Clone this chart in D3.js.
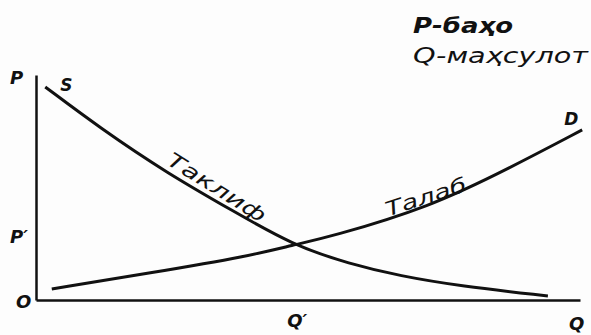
<!DOCTYPE html>
<html lang="uz">
<head>
<meta charset="UTF-8">
<title>Таклиф ва талаб</title>
<script src="https://d3js.org/d3.v7.min.js"></script>
<style>
  body { margin: 0; background: #fdfdfd; }
  svg text { font-family: "DejaVu Sans", sans-serif; font-style: italic; fill: #111; }
  .axis path { stroke: #111; stroke-width: 2.5; }
  .axis text { font-size: 18px; font-style: italic; font-weight: bold; fill: #111; }
  .letter { font-weight: bold; }
</style>
</head>
<body>
<div id="chart"></div>
<script>
// quantity (0-100) and price (0-100) in arbitrary units
const supplyQ = [1.7, 11.8, 24.1, 36.2, 47.2, 57.7, 66.9, 77.9, 94.1];
const supplyP = [94.7, 76.4, 56.4, 39.6, 24.4, 16, 10.7, 6.2, 1.8];
const demandQ = [2.9, 21, 39.3, 47.2, 54, 72.4, 87.1, 100.4];
const demandP = [4.9, 12, 19.6, 24.4, 28, 41.3, 58.7, 75.6];
const equilibrium = [47.2, 24.4];
const legendLines = ["Р-баҳо", "Q-маҳсулот"];

const width = 591, height = 335;
const x = d3.scaleLinear().domain([0, 100]).range([36, 580]);
const y = d3.scaleLinear().domain([0, 100]).range([300, 75]);

const svg = d3.select("#chart").append("svg")
    .attr("width", width)
    .attr("height", height);

// axes, no ticks, only the equilibrium labels
svg.append("g")
    .attr("class", "axis")
    .attr("transform", `translate(0,${y(0)})`)
    .call(d3.axisBottom(x).tickValues([equilibrium[0]]).tickFormat(() => "Q′").tickSize(0).tickPadding(14))
    .call(g => g.selectAll(".tick text").attr("dx", 4));

svg.append("g")
    .attr("class", "axis")
    .attr("transform", `translate(${x(0)},0)`)
    .call(d3.axisLeft(y).tickValues([equilibrium[1]]).tickFormat(() => "P′").tickSize(0).tickPadding(8))
    .call(g => g.selectAll(".tick text").attr("dy", "-0.15em"));

svg.append("text").attr("class", "letter").attr("x", x(0) - 20).attr("y", y(0) + 8).attr("font-size", 18).text("O");
svg.append("text").attr("class", "letter").attr("x", x(0) - 26).attr("y", y(100) + 9).attr("font-size", 18).text("P");
svg.append("text").attr("class", "letter").attr("x", x(98)).attr("y", y(0) + 30).attr("font-size", 18).text("Q");

const line = d3.line()
    .x(d => x(d[0]))
    .y(d => y(d[1]))
    .curve(d3.curveBasis);

const supply = supplyQ.map((q, i) => [q, supplyP[i]]);
const demand = demandQ.map((q, i) => [q, demandP[i]]);

svg.append("path")
    .datum(supply)
    .attr("fill", "none")
    .attr("stroke", "#111")
    .attr("stroke-width", 3)
    .attr("d", line);

svg.append("path")
    .datum(demand)
    .attr("fill", "none")
    .attr("stroke", "#111")
    .attr("stroke-width", 3)
    .attr("d", line);

// curve end letters
svg.append("text").attr("class", "letter").attr("x", x(supply[0][0]) + 15).attr("y", y(supply[0][1]) + 4).attr("font-size", 17).text("S");
svg.append("text").attr("class", "letter").attr("x", x(demand[demand.length - 1][0]) - 18).attr("y", y(demand[demand.length - 1][1]) - 5).attr("font-size", 17).text("D");

// curve names along the lines
svg.append("text")
    .attr("transform", `translate(${x(23.5)},${y(59.5)}) rotate(32)`)
    .attr("font-size", 20)
    .attr("dy", "-0.15em")
    .attr("textLength", 112)
    .attr("lengthAdjust", "spacingAndGlyphs")
    .text("Таклиф");

svg.append("text")
    .attr("transform", `translate(${x(65)},${y(35)}) rotate(-18)`)
    .attr("font-size", 20)
    .attr("dy", "-0.25em")
    .attr("textLength", 84)
    .attr("lengthAdjust", "spacingAndGlyphs")
    .text("Талаб");

// legend
svg.append("g")
    .selectAll("text")
    .data(legendLines)
    .enter().append("text")
    .attr("x", 413)
    .attr("y", (d, i) => 33 + i * 30)
    .attr("font-size", 21)
    .attr("font-weight", (d, i) => i === 0 ? "bold" : "normal")
    .attr("textLength", (d, i) => i === 0 ? 100 : 175)
    .attr("lengthAdjust", "spacingAndGlyphs")
    .text(d => d);
</script>
</body>
</html>
